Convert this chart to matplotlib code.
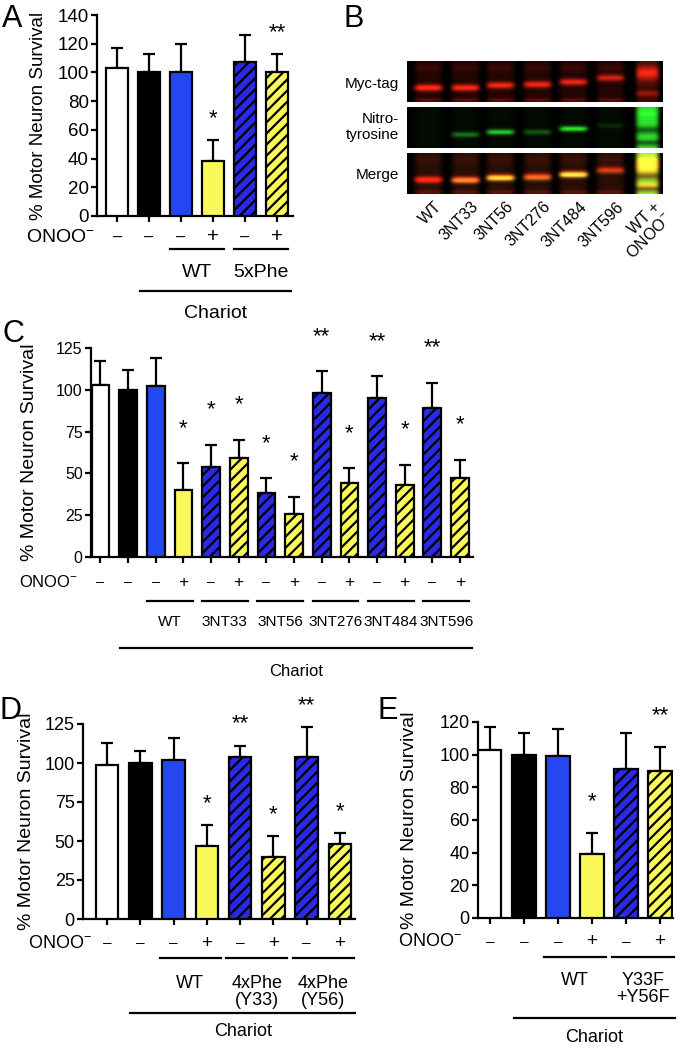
import numpy as np
import matplotlib
matplotlib.use('Agg')
import matplotlib.pyplot as plt
from matplotlib.transforms import blended_transform_factory

plt.rcParams['font.family'] = ['Liberation Sans', 'DejaVu Sans']
plt.rcParams['mathtext.default'] = 'regular'
plt.rcParams['hatch.linewidth'] = 1.6

W_PX, H_PX = 680, 1048

# ---- data ----
# panel A
a_vals = [103, 100, 100, 38, 107, 100]
a_sem = [14, 13, 20, 15, 19, 13]
a_style = ['w', 'k', 'b', 'y', 'bh', 'yh']
a_onoo = ['-', '-', '-', '+', '-', '+']
a_stars = ['', '', '', '*', '', '**']
a_groups = [('WT', 2, 3), ('5xPhe', 4, 5)]

# panel B (blot)
b_lanes = ['WT', '3NT33', '3NT56', '3NT276', '3NT484', '3NT596', 'WT +\nONOO$^{-}$']
b_rows = ['Myc-tag', 'Nitro-\ntyrosine', 'Merge']
b_myc_pos = [0.64, 0.64, 0.58, 0.56, 0.50, 0.40, 0.28]
b_myc_int = [0.95, 0.90, 0.85, 0.85, 0.80, 0.70, 0.75]
b_nitro_pos = [0.64, 0.66, 0.60, 0.60, 0.52, 0.44, 0.5]
b_nitro_int = [0.0, 0.40, 0.75, 0.30, 0.85, 0.12, 0.0]

# panel C
c_vals = [103, 100, 102, 40, 54, 59, 38, 26, 98, 44, 95, 43, 89, 47]
c_sem = [14, 12, 17, 16, 13, 11, 9, 10, 13, 9, 13, 12, 15, 11]
c_style = ['w', 'k', 'b', 'y'] + ['bh', 'yh'] * 5
c_onoo = ['-', '-'] + ['-', '+'] * 6
c_stars = ['', '', '', '*', '*', '*', '*', '*', '**', '*', '**', '*', '**', '*']
c_groups = [('WT', 2, 3), ('3NT33', 4, 5), ('3NT56', 6, 7),
            ('3NT276', 8, 9), ('3NT484', 10, 11), ('3NT596', 12, 13)]

# panel D
d_vals = [99, 100, 102, 47, 104, 40, 104, 48]
d_sem = [14, 8, 14, 13, 7, 13, 19, 7]
d_style = ['w', 'k', 'b', 'y', 'bh', 'yh', 'bh', 'yh']
d_onoo = ['-', '-', '-', '+', '-', '+', '-', '+']
d_stars = ['', '', '', '*', '**', '*', '**', '*']
d_groups = [('WT', 2, 3), ('4xPhe\n(Y33)', 4, 5), ('4xPhe\n(Y56)', 6, 7)]

# panel E
e_vals = [103, 100, 99, 39, 91, 90]
e_sem = [14, 13, 17, 13, 22, 15]
e_style = ['w', 'k', 'b', 'y', 'bh', 'yh']
e_onoo = ['-', '-', '-', '+', '-', '+']
e_stars = ['', '', '', '*', '', '**']
e_groups = [('WT', 2, 3), ('Y33F\n+Y56F', 4, 5)]

STYLES = {
    'w': ('white', None),
    'k': ('black', None),
    'b': ('#2447f2', None),
    'y': ('#fbf95a', None),
    'bh': ('#2a2ae6', '///'),
    'yh': ('#fbf95a', '///'),
}


def fx(x):
    return x / W_PX


def fy(y):
    return 1 - y / H_PX


fig = plt.figure(figsize=(6.8, 10.48), dpi=100)


def add_ax(left, right, top, bottom):
    return fig.add_axes([fx(left), fy(bottom), fx(right - left), (bottom - top) / H_PX])


def bar_panel(ax, vals, sem, style, onoo, stars, groups, lay):
    n = len(vals)
    x = np.arange(n)
    for i in range(n):
        col, hatch = STYLES[style[i]]
        ax.bar(x[i], vals[i], width=lay['bw'], color=col, hatch=hatch,
               edgecolor='black', linewidth=1.6, zorder=3)
    ax.errorbar(x, vals, yerr=[np.zeros(n), sem], fmt='none', ecolor='black',
                elinewidth=1.6, capsize=4.5, capthick=1.6, zorder=2)
    for i in range(n):
        if stars[i]:
            ax.text(x[i], vals[i] + sem[i] + lay['soff'], stars[i], ha='center',
                    va='center', fontsize=lay['sfs'], clip_on=False)
    ax.set_xlim(*lay['xlim'])
    ax.set_ylim(0, lay['ymax'])
    ax.set_yticks(np.arange(0, lay['ymax'] + 1, lay['ystep']))
    ax.set_xticks(x)
    ax.set_xticklabels([])
    for s in ['top', 'right']:
        ax.spines[s].set_visible(False)
    for s in ['left', 'bottom']:
        ax.spines[s].set_linewidth(1.6)
    ax.tick_params(axis='both', width=1.6, length=4.5, labelsize=lay['tfs'], pad=1.5)
    ax.set_ylabel('% Motor Neuron Survival', fontsize=lay['yfs'])
    ax.yaxis.set_label_coords((lay['ylx'] - lay['rect'][0]) / (lay['rect'][1] - lay['rect'][0]), 0.5)

    tr = blended_transform_factory(ax.transData, fig.transFigure)
    fs = lay['fs']
    fig.text(fx(lay['onoo_x']), fy(lay['onoo_y']), 'ONOO$^{-}$', ha='right', va='center',
             fontsize=lay['ofs'])
    for i in range(n):
        sign = '\u2013' if onoo[i] == '-' else '+'
        ax.text(x[i], fy(lay['onoo_y']), sign, transform=tr, ha='center', va='center',
                fontsize=lay['ofs'] * (0.85 if onoo[i] == '-' else 1.05))
    h = lay['gh']
    for lab, i0, i1 in groups:
        mid = (x[i0] + x[i1]) / 2
        ax.plot([mid - h, mid + h], [fy(lay['gl_y'])] * 2, color='black', lw=1.6,
                transform=tr, clip_on=False)
        ax.text(mid, fy(lay['gt_y']), lab, transform=tr, ha='center', va='top',
                fontsize=fs, linespacing=1.0)
    c0, c1 = x[1] - 0.3, x[-1] + 0.45
    ax.plot([c0, c1], [fy(lay['cl_y'])] * 2, color='black', lw=1.6, transform=tr, clip_on=False)
    ax.text((c0 + c1) / 2, fy(lay['ct_y']), 'Chariot', transform=tr, ha='center', va='center',
            fontsize=lay['ofs'])


lay_a = dict(rect=(97, 293, 15, 216), xlim=(-0.63, 5.5), ymax=140, ystep=20, bw=0.68,
             soff=15, fs=14, ofs=14, tfs=13.5, yfs=13.5, sfs=16, ylx=47, onoo_x=95, onoo_y=237,
             gl_y=249, gt_y=264, cl_y=291, ct_y=313, gh=0.85)
lay_c = dict(rect=(91, 473, 348, 557), xlim=(-0.34, 13.47), ymax=125, ystep=25, bw=0.64,
             soff=21, fs=11, ofs=12, tfs=11.5, yfs=14, sfs=16, ylx=38, onoo_x=78, onoo_y=582,
             gl_y=601, gt_y=615, cl_y=648, ct_y=672, gh=0.83)
lay_d = dict(rect=(83, 355, 724, 919), xlim=(-0.72, 7.45), ymax=125, ystep=25, bw=0.68,
             soff=14, fs=13, ofs=13, tfs=13, yfs=14, sfs=16, ylx=35, onoo_x=92, onoo_y=943,
             gl_y=958, gt_y=975, cl_y=1013, ct_y=1032, gh=0.92)
lay_e = dict(rect=(478, 673, 722, 918), xlim=(-0.35, 5.38), ymax=120, ystep=20, bw=0.68,
             soff=19, fs=13, ofs=13, tfs=13, yfs=14, sfs=16, ylx=418, onoo_x=462, onoo_y=942,
             gl_y=957, gt_y=972, cl_y=1018, ct_y=1038, gh=0.91)

for vals, sem, style, onoo, stars, groups, lay in [
        (a_vals, a_sem, a_style, a_onoo, a_stars, a_groups, lay_a),
        (c_vals, c_sem, c_style, c_onoo, c_stars, c_groups, lay_c),
        (d_vals, d_sem, d_style, d_onoo, d_stars, d_groups, lay_d),
        (e_vals, e_sem, e_style, e_onoo, e_stars, e_groups, lay_e)]:
    ax = add_ax(*lay['rect'])
    bar_panel(ax, vals, sem, style, onoo, stars, groups, lay)

# ---- panel B: blot image ----
H, W, GAP = 41, 256, 5
lane_x = np.array([21, 58, 93, 130, 166, 203, 240])
yy, xx = np.mgrid[0:H, 0:W].astype(float)


def lane_mask(c, hw):
    return np.exp(-(np.abs(xx - c) / hw) ** 6)


def band(pos, width):
    return np.exp(-((yy - pos * H) / width) ** 2)


red = np.zeros((H, W))
green = np.zeros((H, W))
for i in range(6):
    m = lane_mask(lane_x[i], 14)
    red += m * (0.14 + b_myc_int[i] * band(b_myc_pos[i], 3.3) + 0.2 * band(0.94, 2.2)
                + 0.08 * band(0.15, 4))
    green += m * (0.04 + b_nitro_int[i] * band(b_nitro_pos[i], 2.7))
m = lane_mask(lane_x[6], 11.5)
red += m * (0.25 + b_myc_int[6] * band(b_myc_pos[6], 7) + 0.35 * band(0.78, 2.8))
green += m * np.clip(0.9 - 0.5 * band(0.55, 4) - 0.5 * band(0.86, 3.2) + 0.1 * band(0.15, 3), 0, 1)
red = np.clip(red, 0, 1)
green = np.clip(green, 0, 1)

myc_img = np.dstack([red, 0.15 * red, 0.08 * red])
nit_img = np.dstack([0.2 * green, green, 0.2 * green])
mer_img = np.dstack([np.clip(red + 0.45 * green, 0, 1), np.clip(0.12 * red + green, 0, 1),
                     0.08 * red + 0.2 * green])
gap = np.ones((GAP, W, 3))
blot = np.vstack([myc_img, gap, nit_img, gap, mer_img])

axb = add_ax(407, 663, 61, 194)
axb.imshow(blot, aspect='auto', extent=(0, W, blot.shape[0], 0), interpolation='bilinear')
axb.axis('off')

row_y = [84, 127, 175]
for lab, y in zip(b_rows, row_y):
    fig.text(fx(399), fy(y), lab, ha='right', va='center', fontsize=11, linespacing=1.15)
for lab, c in zip(b_lanes, lane_x):
    fig.text(fx(407 + c + 6), fy(199), lab, ha='right', va='top', rotation=45,
             rotation_mode='anchor', fontsize=11.5, linespacing=1.0)

# panel letters
for lab, x, y in [('A', 2, 19), ('B', 343, 19), ('C', 2, 334), ('D', 0, 711), ('E', 377, 711)]:
    fig.text(fx(x), fy(y), lab, ha='left', va='center', fontsize=22)

fig.savefig('out.png', dpi=100)
